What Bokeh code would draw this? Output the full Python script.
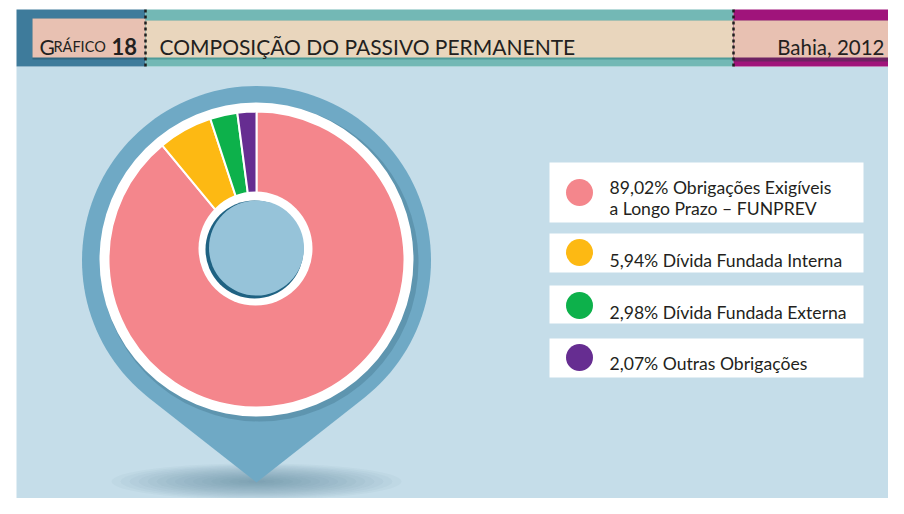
import math
from bokeh.plotting import figure
from bokeh.models import Range1d
from bokeh.core.properties import value
from bokeh.embed import file_html
from bokeh.resources import INLINE

# ---- data ----
categories = ["Obrigações Exigíveis a Longo Prazo – FUNPREV", "Dívida Fundada Interna",
              "Dívida Fundada Externa", "Outras Obrigações"]
legend_line1 = ["Obrigações Exigíveis", "Dívida Fundada Interna", "Dívida Fundada Externa", "Outras Obrigações"]
legend_line2 = ["a Longo Prazo – FUNPREV", "", "", ""]
values = [89.02, 5.94, 2.98, 2.07]
colors = ["#f4868c", "#fdb913", "#0db14b", "#662d91"]
title_text = "COMPOSIÇÃO DO PASSIVO PERMANENTE"
place_text = "Bahia, 2012"

FONT = "Lato"
TXT = "#231f20"


def Y(y):
    return 514 - y


p = figure(width=888, height=498, output_backend="svg", toolbar_location=None,
           x_range=Range1d(0, 888), y_range=Range1d(16, 514),
           x_axis_location=None, y_axis_location=None, min_border=0,
           background_fill_color="white", border_fill_color="white")
p.grid.visible = False
p.outline_line_color = None

# panel background
p.quad(left=16, right=904, bottom=Y(514), top=Y(66), fill_color="#c5dde9", line_color=None)

# header bands
p.quad(left=16, right=145, bottom=Y(66), top=Y(9), fill_color="#3e7b9b", line_color=None)
p.quad(left=32, right=145, bottom=Y(59), top=Y(18), fill_color="#2f6680", line_color=None)
p.quad(left=32, right=145, bottom=Y(57), top=Y(18), fill_color="#e8c1b2", line_color=None)
p.quad(left=145, right=733, bottom=Y(66), top=Y(9), fill_color="#73b8b5", line_color=None)
p.quad(left=145, right=733, bottom=Y(59), top=Y(20), fill_color="#4f9c99", line_color=None)
p.quad(left=145, right=733, bottom=Y(57), top=Y(20), fill_color="#e9d6bd", line_color=None)
p.quad(left=733, right=904, bottom=Y(66), top=Y(9), fill_color="#a0147b", line_color=None)
p.quad(left=733, right=904, bottom=Y(61), top=Y(20), fill_color="#6e2262", line_color=None)
p.quad(left=733, right=904, bottom=Y(57), top=Y(20), fill_color="#e8c1b2", line_color=None)
p.segment(x0=[145, 733], y0=[Y(9), Y(9)], x1=[145, 733], y1=[Y(67), Y(67)],
          line_color="#1e1e1e", line_width=2.5, line_dash="3 3")

# header texts
p.text(x=[39], y=[Y(46)], text=["G"], text_font=value(FONT), text_font_size="21px",
       text_color=TXT, text_baseline="alphabetic")
p.text(x=[53], y=[Y(46)], text=["RÁFICO"], text_font=value(FONT), text_font_size="14.5px",
       text_color=TXT, text_baseline="alphabetic")
p.text(x=[111], y=[Y(46)], text=["18"], text_font=value(FONT), text_font_size="22px",
       text_font_style="bold", text_color=TXT, text_baseline="alphabetic")
p.text(x=[159], y=[Y(46)], text=[title_text], text_font=value(FONT), text_font_size="21px",
       text_color=TXT, text_baseline="alphabetic")
p.text(x=[884], y=[Y(46)], text=[place_text], text_font=value(FONT), text_font_size="20.5px",
       text_color=TXT, text_baseline="alphabetic", text_align="right")

# shadow under pin tip
cx, cy_ref = 256, 260
tip_ref = 482
for i in range(16):
    f = 1 - i / 16
    p.ellipse(x=[cx], y=[Y(481)], width=[290 * f], height=[36 * f],
              fill_color="#3f7592", fill_alpha=0.045, line_color=None)

# pin shape
R = 174.5
d = tip_ref - cy_ref
beta = math.acos(R / d)
cy = Y(cy_ref)
a_start = -math.pi / 2 + beta
a_end = -math.pi / 2 - beta + 2 * math.pi
n = 120
xs, ys = [], []
for k in range(n + 1):
    a = a_start + (a_end - a_start) * k / n
    xs.append(cx + R * math.cos(a))
    ys.append(cy + R * math.sin(a))
xs.append(cx)
ys.append(Y(tip_ref))
p.patch(xs, ys, fill_color="#6fa9c5", line_color=None)

# soft shadow of white ring
p.circle(x=[259], y=[Y(262)], radius=[159], fill_color="#3f6f88", fill_alpha=0.35, line_color=None)
p.circle(x=[256], y=[Y(259)], radius=[157], fill_color="white", line_color=None)

# donut wedges
total = sum(values)
cum = 0.0
starts, ends = [], []
for v in values:
    starts.append(math.pi / 2 - cum / total * 2 * math.pi)
    cum += v
    ends.append(math.pi / 2 - cum / total * 2 * math.pi)
p.wedge(x=[256] * 4, y=[Y(259)] * 4, radius=148, start_angle=starts, end_angle=ends,
        direction="clock", fill_color=colors, line_color="white", line_width=2)

# inner hole
p.circle(x=[255], y=[Y(248)], radius=[57], fill_color="white", line_color=None)
p.circle(x=[254], y=[Y(249)], radius=[49], fill_color="#1f6282", line_color=None)
p.circle(x=[256], y=[Y(247.5)], radius=[47.5], fill_color="#96c3d9", line_color=None)

# legend
box_top = [162, 233, 285, 338]
box_bot = [222, 272, 323, 377]
dot_y = [192, 252, 305, 357]
base1 = [187, 260, 312, 363]
base2 = [208, None, None, None]
p.quad(left=549, right=863, bottom=[Y(b) for b in box_bot], top=[Y(t) for t in box_top],
       fill_color="white", line_color=None)
p.circle(x=[579] * 4, y=[Y(v) for v in dot_y], radius=13.5, fill_color=colors, line_color=None)
lines1 = ["%s%% %s" % (("%.2f" % v).replace(".", ","), l) for v, l in zip(values, legend_line1)]
p.text(x=[609] * 4, y=[Y(b) for b in base1], text=lines1, text_font=value(FONT),
       text_font_size="17.6px", text_color=TXT, text_baseline="alphabetic")
p.text(x=[609], y=[Y(base2[0])], text=[legend_line2[0]], text_font=value(FONT),
       text_font_size="17.6px", text_color=TXT, text_baseline="alphabetic")

open("out.html", "w").write(file_html(p, INLINE))
